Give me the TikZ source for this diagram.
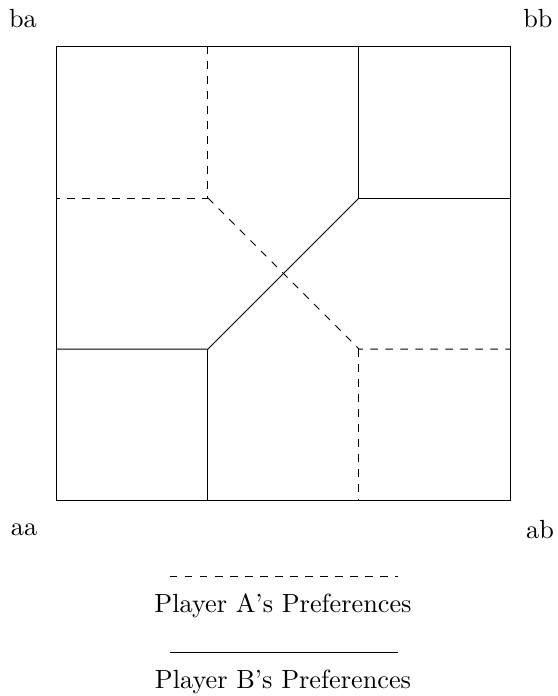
\documentclass[tikz,border=0pt]{standalone}
\begin{document}
\begin{tikzpicture}[x=0.4pt,y=-0.4pt,
  lbl/.style={inner sep=0pt, scale=1.05},
  pa/.style={dashed, line width=0.4pt},
  pb/.style={line width=0.4pt}]
\useasboundingbox (0,0) rectangle (558,696);
% square
\coordinate (sq1) at (57,46);
\coordinate (sq2) at (511,500);
\draw (sq1) rectangle (sq2);
% grid points
\coordinate (t1) at (208,46);
\coordinate (t2) at (359,46);
\coordinate (l1) at (57,198);
\coordinate (l2) at (57,349);
\coordinate (r1) at (511,198);
\coordinate (r2) at (511,349);
\coordinate (b1) at (208,500);
\coordinate (b2) at (359,500);
\coordinate (c11) at (208,198);
\coordinate (c21) at (359,198);
\coordinate (c12) at (208,349);
\coordinate (c22) at (359,349);
% Player A (dashed)
\draw[pa] (t1) -- (c11) -- (l1);
\draw[pa] (c11) -- (c22) -- (r2);
\draw[pa] (c22) -- (b2);
% Player B (solid)
\draw[pb] (t2) -- (c21) -- (r1);
\draw[pb] (c21) -- (c12) -- (l2);
\draw[pb] (c12) -- (b1);
% corner labels
\node[lbl] (ba) at (23,19) {ba};
\node[lbl] (bb) at (538,19) {bb};
\node[lbl] (aa) at (24,530) {aa};
\node[lbl] (ab) at (540,530) {ab};
% legend
\coordinate (la1) at (170,576);
\coordinate (la2) at (398,576);
\draw[pa] (la1) -- (la2);
\node[lbl] (ta) at (283,606) {Player A's Preferences};
\coordinate (lb1) at (170,652);
\coordinate (lb2) at (398,652);
\draw[pb] (lb1) -- (lb2);
\node[lbl] (tb) at (283,682) {Player B's Preferences};
\end{tikzpicture}
\end{document}
